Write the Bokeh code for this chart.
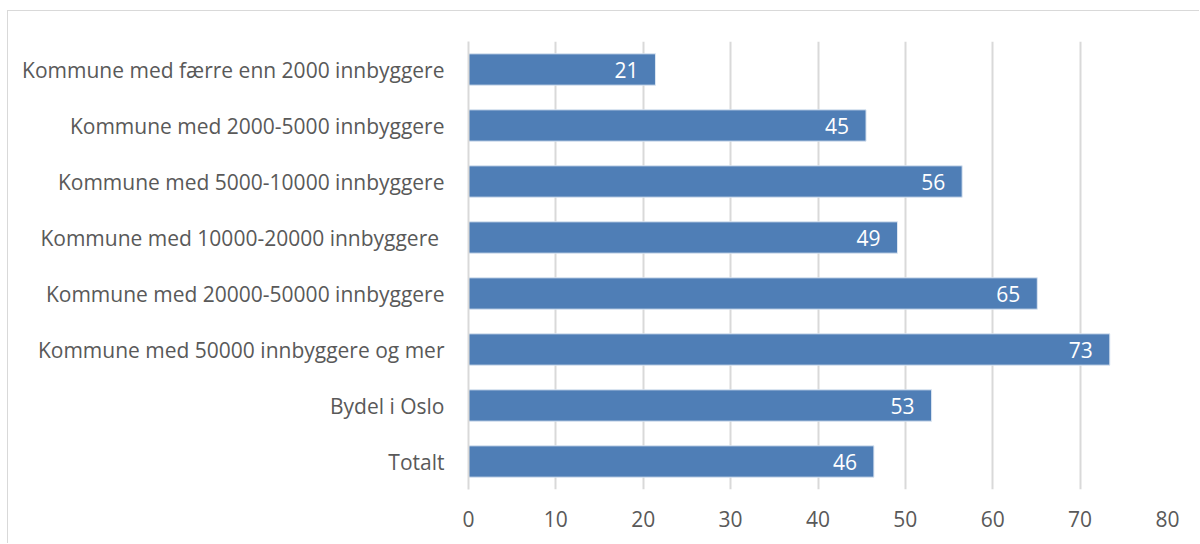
from bokeh.plotting import figure
from bokeh.models import ColumnDataSource, FixedTicker, LabelSet
from bokeh.embed import file_html
from bokeh.resources import INLINE
from bokeh.core.properties import value

categories = [
    "Kommune med færre enn 2000 innbyggere",
    "Kommune med 2000-5000 innbyggere",
    "Kommune med 5000-10000 innbyggere",
    "Kommune med  10000-20000 innbyggere",
    "Kommune med 20000-50000 innbyggere",
    "Kommune med 50000 innbyggere og mer",
    "Bydel i Oslo",
    "Totalt",
]
values = [21.4, 45.5, 56.5, 49.1, 65.1, 73.4, 53.0, 46.4]
labels = ["21", "45", "56", "49", "65", "73", "53", "46"]
x_ticks = [0, 10, 20, 30, 40, 50, 60, 70, 80]

FONT = "Open Sans"
GREY = "#595959"

src = ColumnDataSource(dict(cat=categories, val=values, lab=labels))

p = figure(
    width=1192, height=533,
    y_range=list(reversed(categories)),
    x_range=(0, 80),
    output_backend="svg", toolbar_location=None,
    min_border_left=460, min_border_right=33, min_border_top=30, min_border_bottom=55,
)
p.styles = {"border-left": "1px solid #D9D9D9", "border-top": "1px solid #D9D9D9",
            "margin-left": "7px", "margin-top": "10px"}
p.outline_line_color = None
p.background_fill_color = "white"

p.hbar(y="cat", right="val", left=0, height=0.56, source=src,
       fill_color="#4F7EB6", line_color="#DCE6F2", line_width=1)

p.add_layout(LabelSet(x="val", y="cat", text="lab", source=src,
                      x_offset=-17, text_align="right", text_baseline="middle",
                      text_color="white", text_font=value(FONT), text_font_size="21px"))

p.xaxis.ticker = FixedTicker(ticks=x_ticks)
p.xaxis.axis_line_color = None
p.xaxis.major_tick_line_color = None
p.xaxis.minor_tick_line_color = None
p.xaxis.major_label_text_font = FONT
p.xaxis.major_label_text_font_size = "21px"
p.xaxis.major_label_text_color = GREY
p.xaxis.major_label_standoff = 15

p.yaxis.axis_line_color = "#D9D9D9"
p.yaxis.axis_line_width = 2
p.yaxis.major_tick_line_color = None
p.yaxis.minor_tick_line_color = None
p.yaxis.major_label_text_font = FONT
p.yaxis.major_label_text_font_size = "21px"
p.yaxis.major_label_text_color = GREY
p.yaxis.major_label_standoff = 18

p.xgrid.grid_line_color = "#D9D9D9"
p.xgrid.grid_line_width = 2
p.ygrid.grid_line_color = None

open("out.html", "w").write(file_html(p, INLINE))
